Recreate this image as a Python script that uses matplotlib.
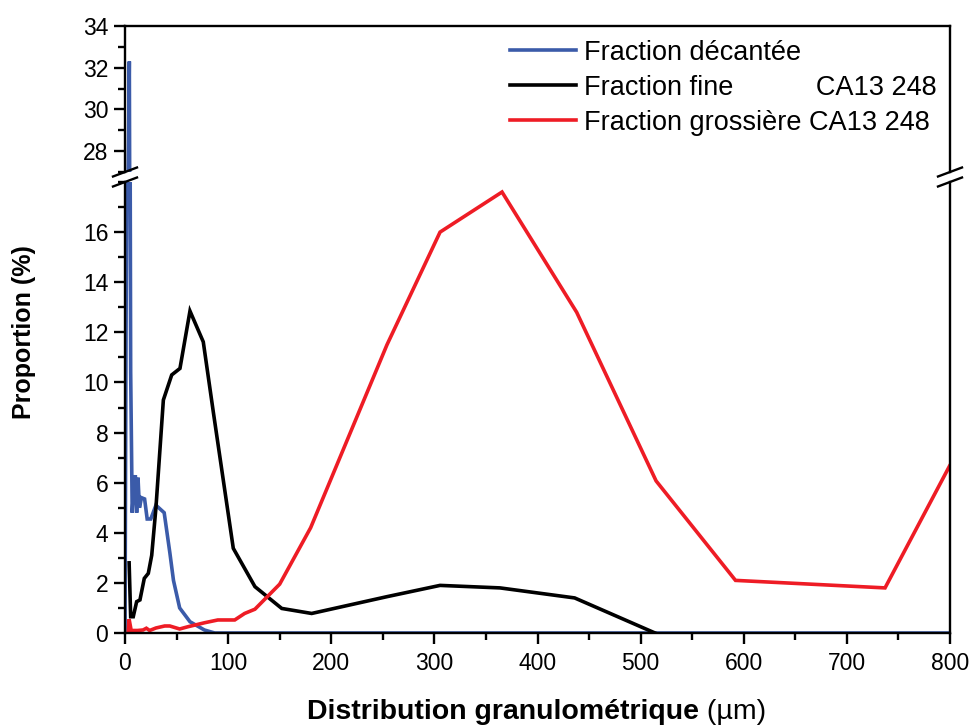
import matplotlib
matplotlib.use("Agg")
import matplotlib.pyplot as plt
from matplotlib.ticker import MultipleLocator
from matplotlib.lines import Line2D

plt.rcParams['font.family'] = ['Liberation Sans', 'DejaVu Sans']

# Data
blue_x = [0, 1, 2.5, 4.2, 5.5, 7, 8.5, 10, 11.3, 12.6, 14, 16, 19, 21.5, 25, 30, 38,
          43.5, 47, 53, 63, 77, 87, 100, 200, 400, 600, 800, 820]
blue_y = [0, 12, 24, 32.3, 10.4, 4.8, 5.8, 6.3, 4.8, 6.2, 5.0, 5.4, 5.35, 4.55, 4.55, 5.1, 4.8,
          3.2, 2.1, 1.0, 0.45, 0.12, 0, 0, 0, 0, 0, 0, 0]

black_x = [4, 5.5, 8, 11.3, 14.5, 18.7, 22.6, 25.9, 30, 37.2, 45.3, 53.3, 63, 75.9, 85.6,
           105, 126, 152, 181, 254, 305.5, 363.6, 436, 514]
black_y = [2.8, 0.65, 0.65, 1.25, 1.32, 2.18, 2.38, 3.1, 5.0, 9.3, 10.3, 10.56, 12.85, 11.62, 8.83,
           3.38, 1.85, 0.98, 0.78, 1.45, 1.9, 1.8, 1.4, 0]

red_x = [3, 4, 6, 12, 17.5, 20.7, 23.9, 30, 38.5, 43.4, 53, 61, 77.3, 90, 106.4, 116, 126,
         150, 180, 254, 305.5, 365.6, 438, 515, 592, 737, 800, 820]
red_y = [0, 0.55, 0.1, 0.1, 0.12, 0.19, 0.1, 0.2, 0.28, 0.28, 0.16, 0.25, 0.41, 0.52, 0.52, 0.78, 0.95,
         1.95, 4.2, 11.5, 16.0, 17.6, 12.8, 6.07, 2.1, 1.8, 6.7, 7.8]

labels = ["Fraction décantée",
          "Fraction fine           CA13 248",
          "Fraction grossière CA13 248"]
colors = ["#3B5BA9", "#000000", "#EE1C25"]

W, H = 974, 727
fig = plt.figure(figsize=(W / 100, H / 100), dpi=100)

left, right = 125 / W, 950 / W
ax_lo = fig.add_axes([left, 1 - 633 / H, right - left, (633 - 182) / H])
ax_hi = fig.add_axes([left, 1 - 172 / H, right - left, (172 - 26) / H])

series = [(blue_x, blue_y), (black_x, black_y), (red_x, red_y)]
for ax in (ax_lo, ax_hi):
    for (xs, ys), c in zip(series, colors):
        ax.plot(xs, ys, color=c, lw=2.6, solid_joinstyle='miter')
    ax.set_xlim(0, 800)
    for sp in ax.spines.values():
        sp.set_linewidth(1.7)
    ax.tick_params(axis='both', which='major', direction='out', length=8, width=1.7,
                   labelsize=16.5, pad=4)
    ax.tick_params(axis='both', which='minor', direction='out', length=5, width=1.7)

ax_lo.set_ylim(0, 18)
ax_lo.yaxis.set_minor_locator(MultipleLocator(1))
ax_lo.set_yticks([0, 2, 4, 6, 8, 10, 12, 14, 16])
ax_lo.xaxis.set_major_locator(MultipleLocator(100))
ax_lo.xaxis.set_minor_locator(MultipleLocator(50))
ax_lo.spines['top'].set_visible(False)
ax_lo.tick_params(axis='x', which='major', pad=6)

ax_hi.set_ylim(27, 34)
ax_hi.set_yticks([28, 30, 32, 34])
ax_hi.yaxis.set_minor_locator(MultipleLocator(1))
ax_hi.spines['bottom'].set_visible(False)
ax_hi.tick_params(axis='x', which='both', bottom=False, labelbottom=False)

# Break marks
def slash(xp, yp):
    dx, dy = 12, 4.5
    fig.add_artist(Line2D([(xp - dx) / W, (xp + dx) / W], [1 - (yp + dy) / H, 1 - (yp - dy) / H],
                          color='black', lw=1.7, transform=fig.transFigure))
for xp in (125, 950):
    slash(xp, 172)
    slash(xp, 182)

# Legend
handles = [Line2D([], [], color=c, lw=2.6) for c in colors]
ax_hi.legend(handles, labels, loc='upper left', bbox_to_anchor=((510 - 125) / 825, 0.905),
             frameon=False, fontsize=19.5, handlelength=2.45, handletextpad=0.3,
             labelspacing=0.33, borderaxespad=0, borderpad=0)

# Axis labels
fig.text(24 / W, 1 - 332 / H, "Proportion (%)", rotation=90, fontsize=18, fontweight='bold',
         ha='center', va='center')

fig.canvas.draw()
r = fig.canvas.get_renderer()
t1 = fig.text(0, 1 - 712 / H, "Distribution granulométrique", fontsize=20.5, fontweight='bold',
              ha='left', va='center')
t2 = fig.text(0, 1 - 712 / H, " (µm)", fontsize=20.5, ha='left', va='center')
w1 = t1.get_window_extent(r).width
w2 = t2.get_window_extent(r).width
x0 = 537 - (w1 + w2) / 2
t1.set_x(x0 / W)
t2.set_x((x0 + w1) / W)

fig.savefig("out.png", dpi=100)
